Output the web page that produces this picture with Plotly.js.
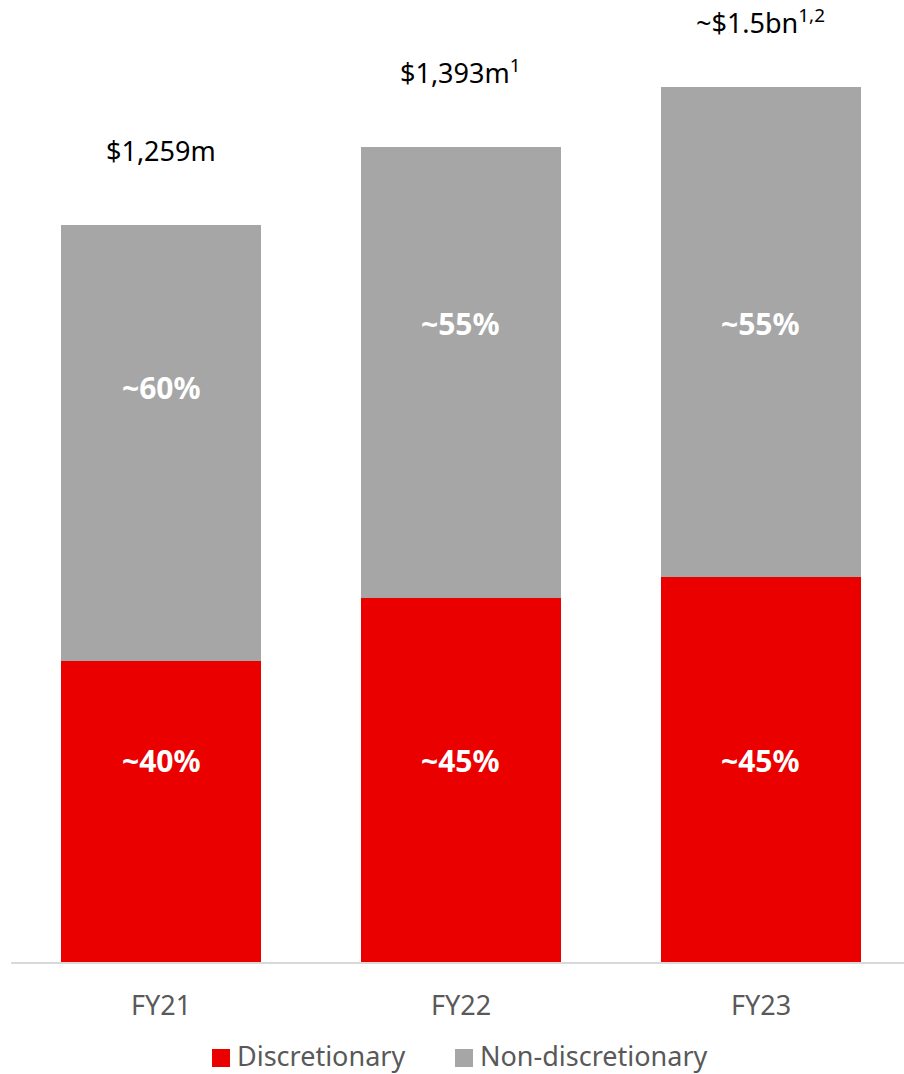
<!DOCTYPE html>
<html>
<head>
<meta charset="utf-8">
<script src="https://cdn.plot.ly/plotly-3.0.1.min.js"></script>
<style>html,body{margin:0;padding:0;background:#fff;}#chart{width:904px;height:1074px;}</style>
</head>
<body>
<div id="chart"></div>
<script>
// ---- data ----
const categories = ["FY21", "FY22", "FY23"];
const discretionary = [514, 622, 658];        // $m
const nonDiscretionary = [745, 771, 838];     // $m
const discretionaryLabels = ["~40%", "~45%", "~45%"];
const nonDiscretionaryLabels = ["~60%", "~55%", "~55%"];
const totalLabels = ["$1,259m", "$1,393m<sup>1</sup>", "~$1.5bn<sup>1,2</sup>"];
const seriesNames = ["Discretionary", "Non-discretionary"];

// ---- styles ----
const RED = "#EB0000";
const GREY = "#A6A6A6";
const FONT = "Noto Sans, sans-serif";

const traces = [
  {type: "bar", name: seriesNames[0], x: categories, y: discretionary,
   marker: {color: RED}, width: 0.667, hoverinfo: "skip", showlegend: false},
  {type: "bar", name: seriesNames[1], x: categories, y: nonDiscretionary,
   marker: {color: GREY}, width: 0.667, hoverinfo: "skip", showlegend: false}
];

const totals = categories.map((c, i) => discretionary[i] + nonDiscretionary[i]);
const annotations = [];
const topShift = [60, 60, 50];
categories.forEach((c, i) => {
  annotations.push({x: c, y: totals[i], xref: "x", yref: "y", text: totalLabels[i],
    showarrow: false, yanchor: "bottom", yshift: topShift[i] - 6,
    font: {family: FONT, size: 27, color: "#000"}});
  // discretionary label (fixed height inside red bar)
  annotations.push({x: c, y: 345, xref: "x", yref: "y", text: "<b>" + discretionaryLabels[i] + "</b>",
    showarrow: false, yanchor: "middle",
    font: {family: FONT, size: 30, color: "#fff"}});
});
const greyLabelY = [981, 1092, 1092];
categories.forEach((c, i) => {
  annotations.push({x: c, y: greyLabelY[i], xref: "x", yref: "y", text: "<b>" + nonDiscretionaryLabels[i] + "</b>",
    showarrow: false, yanchor: "middle",
    font: {family: FONT, size: 30, color: "#fff"}});
});

// manual legend
const legendItems = [
  {name: seriesNames[0], color: RED, sx: 212, tx: 235},
  {name: seriesNames[1], color: GREY, sx: 455, tx: 478}
];
const shapes = [];
legendItems.forEach(it => {
  shapes.push({type: "rect", xref: "paper", yref: "paper",
    x0: (it.sx - 11) / 893, x1: (it.sx + 18 - 11) / 893,
    y0: (962 - 1067) / 962, y1: (962 - 1049) / 962,
    fillcolor: it.color, line: {width: 0}});
  annotations.push({xref: "paper", yref: "paper", x: (it.tx - 11) / 893, y: (962 - 1055) / 962,
    xanchor: "left", yanchor: "middle", showarrow: false, text: it.name,
    font: {family: FONT, size: 27, color: "#595959"}});
});

const layout = {
  width: 904, height: 1074,
  margin: {l: 11, r: 0, t: 0, b: 112},
  paper_bgcolor: "#fff", plot_bgcolor: "#fff",
  barmode: "stack",
  showlegend: false,
  font: {family: FONT},
  xaxis: {range: [-0.5, 2.4767], showline: true, linecolor: "#D9D9D9", linewidth: 2,
    ticks: "", showgrid: false, zeroline: false, fixedrange: true,
    tickfont: {family: FONT, size: 27, color: "#595959"}, ticklabelstandoff: 19},
  yaxis: {range: [0, 1644], visible: false, showgrid: false, zeroline: false, fixedrange: true},
  annotations: annotations,
  shapes: shapes
};

Plotly.newPlot("chart", traces, layout, {staticPlot: true, displayModeBar: false});
</script>
</body>
</html>
